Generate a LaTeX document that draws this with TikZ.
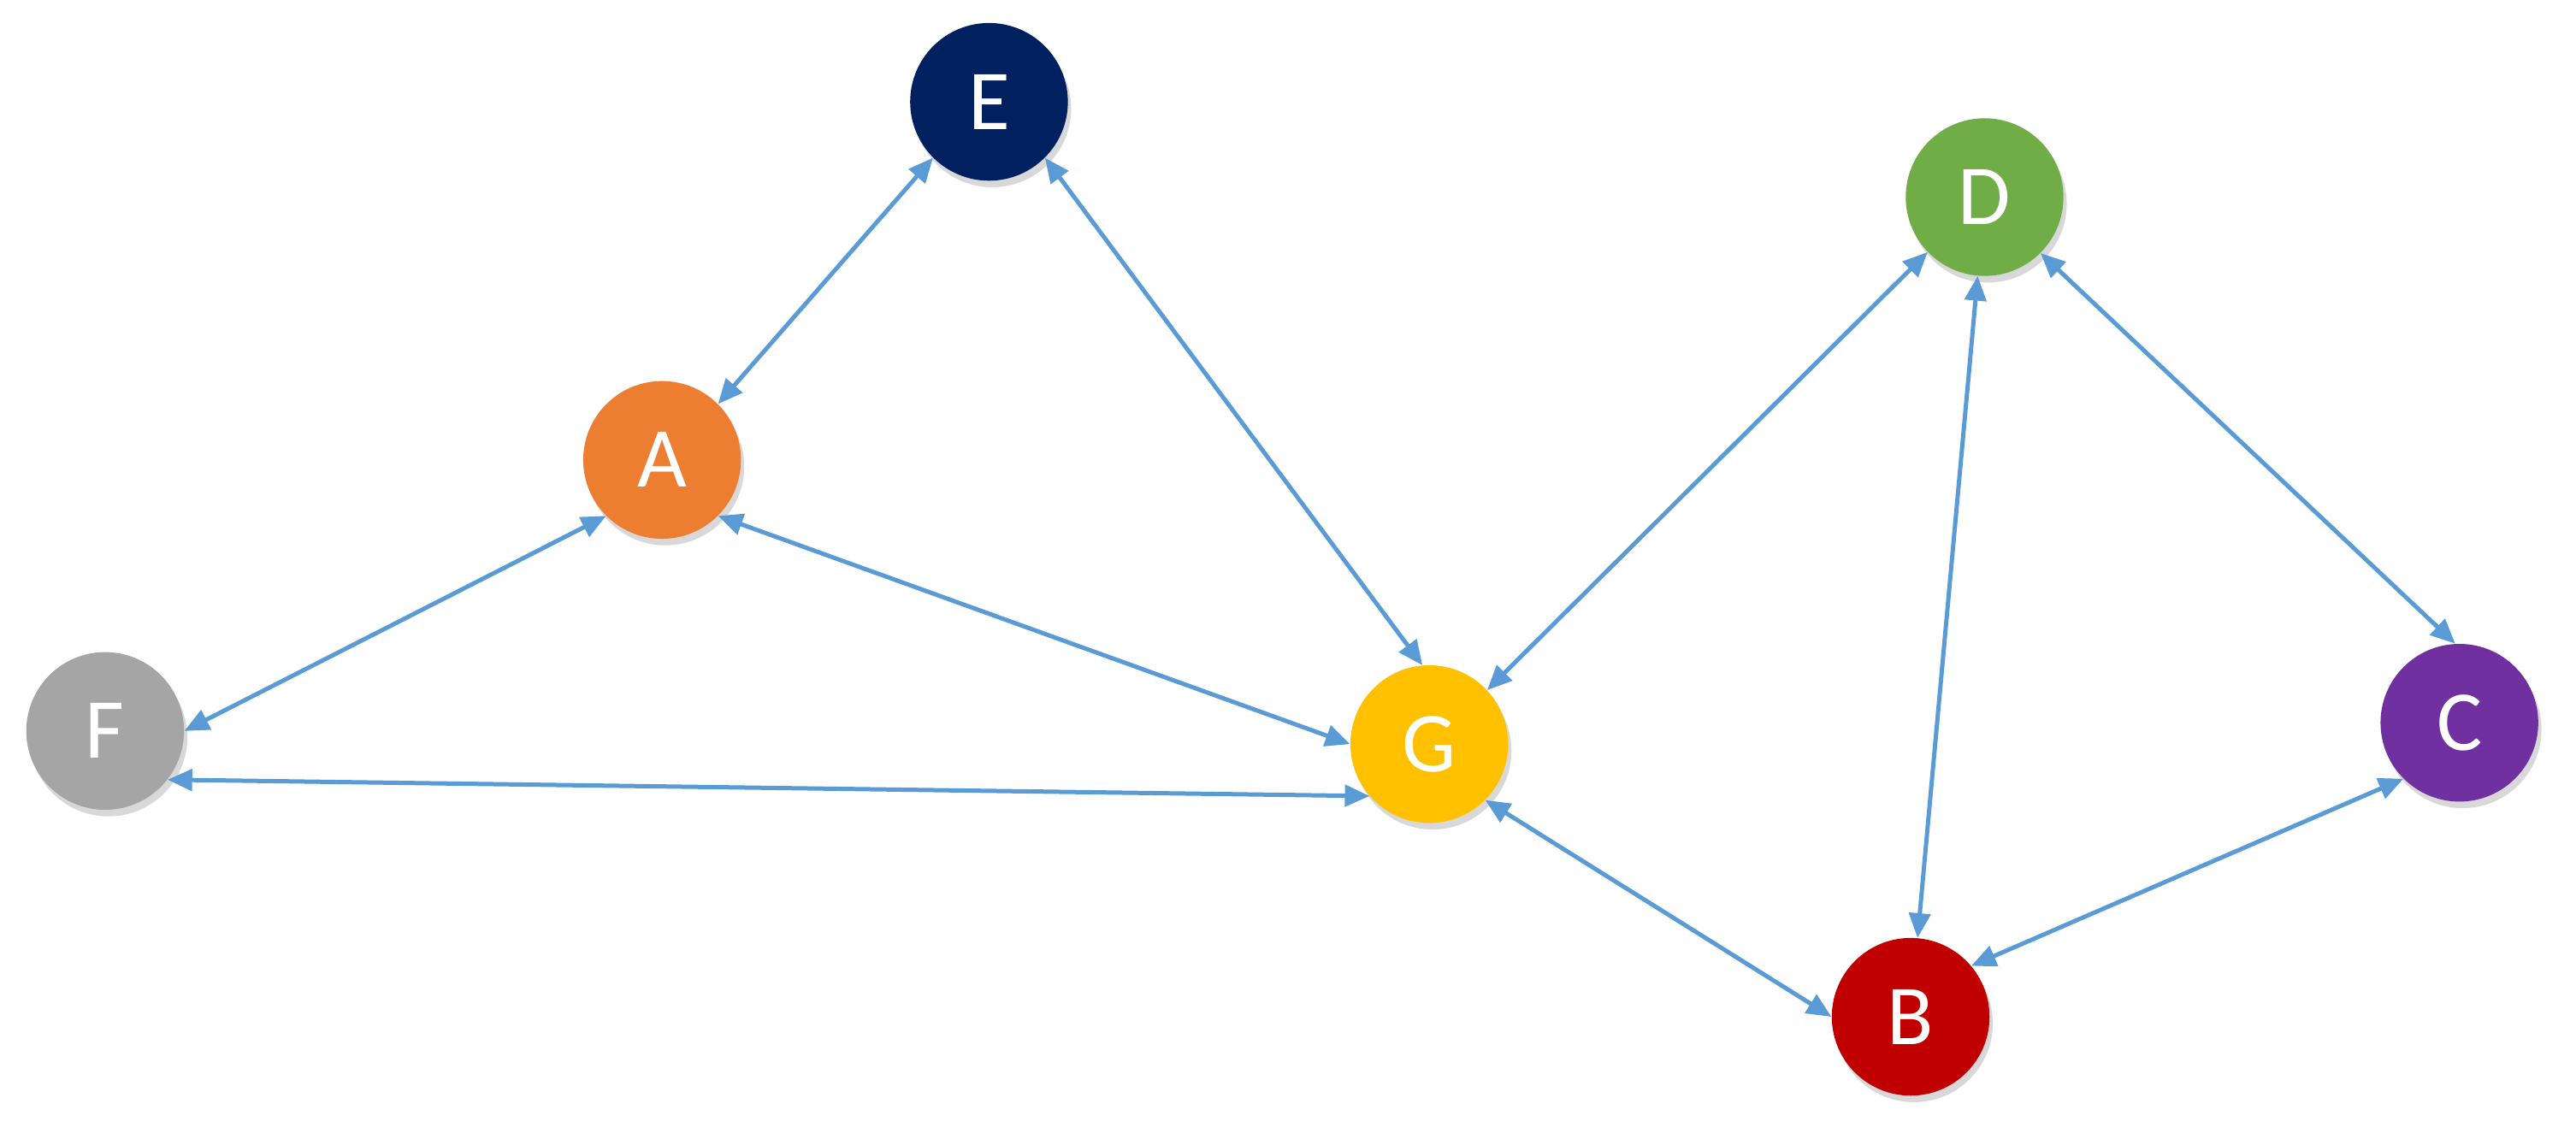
\documentclass[tikz,border=0pt]{standalone}
\usepackage{fontspec}
\setmainfont{Carlito}
\usetikzlibrary{arrows.meta,shadows}
\definecolor{cE}{HTML}{002060}
\definecolor{cD}{HTML}{70AD47}
\definecolor{cA}{HTML}{ED7D31}
\definecolor{cF}{HTML}{A5A5A5}
\definecolor{cG}{HTML}{FFC000}
\definecolor{cC}{HTML}{7030A0}
\definecolor{cB}{HTML}{C00000}
\definecolor{edge}{HTML}{5B9BD5}
\tikzset{
  vtx/.style={circle,minimum size=96pt,inner sep=0pt,text=white,font=\fontsize{52}{52}\selectfont,
    drop shadow={shadow xshift=2pt,shadow yshift=-4pt,opacity=0.3}},
  link/.style={draw=edge,line width=2.6pt,{Triangle[length=15pt,width=13pt]}-{Triangle[length=15pt,width=13pt]}}
}
\begin{document}
\begin{tikzpicture}[x=1pt,y=-1pt]
\useasboundingbox[fill=white] (0,0) rectangle (1568,693);
\node[vtx,fill=cE] (E) at (602,62) {E};
\node[vtx,fill=cD] (D) at (1208,120) {D};
\node[vtx,fill=cA] (A) at (403,280) {A};
\node[vtx,fill=cF] (F) at (64,445) {F};
\node[vtx,fill=cG] (G) at (870,453) {G};
\node[vtx,fill=cC] (C) at (1497,440) {C};
\node[vtx,fill=cB] (B) at (1163,619) {B};
\draw[link] (E.-135) -- (A.45);
\draw[link] (E.-45) -- (G.95);
\draw[link] (A.-135) -- (F.0);
\draw[link] (A.-45) -- (G.180);
\draw[link] (F.-38) -- (G.221);
\draw[link] (D.-136) -- (G.43);
\draw[link] (D.-95) -- (B.85);
\draw[link] (D.-45) -- (C.93);
\draw[link] (C.-135) -- (B.40);
\draw[link] (G.-45) -- (B.180);
\end{tikzpicture}
\end{document}
